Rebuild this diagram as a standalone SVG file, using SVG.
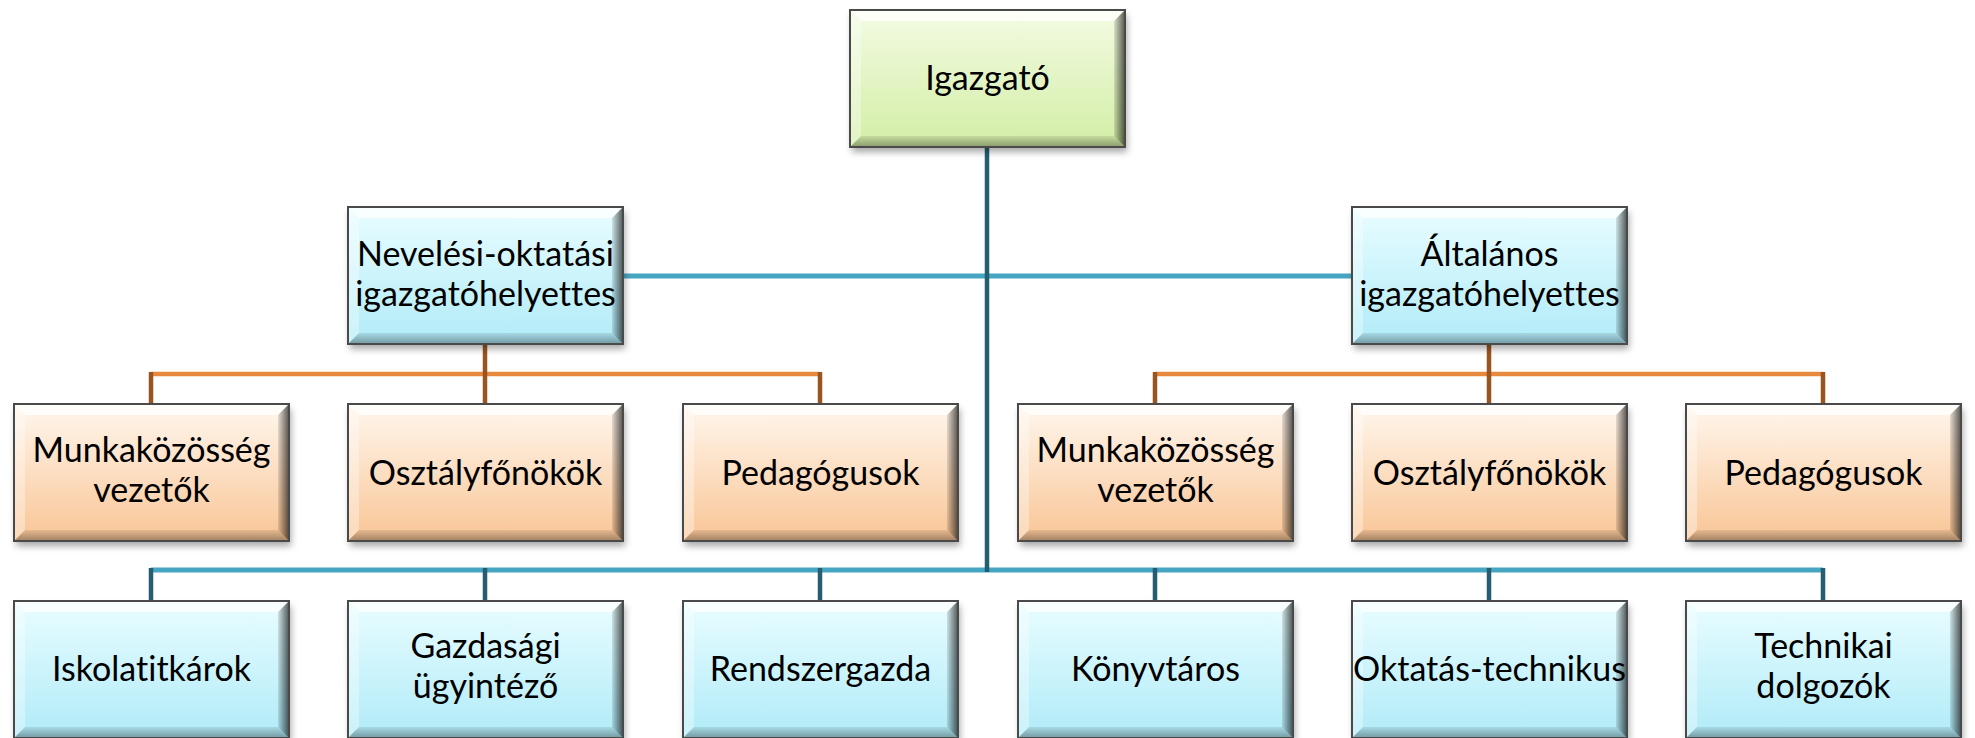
<svg xmlns="http://www.w3.org/2000/svg" xmlns:xlink="http://www.w3.org/1999/xlink" width="1975" height="738" viewBox="0 0 1975 738">
<defs>
<linearGradient id="gGreen" x1="0" y1="0" x2="0" y2="1"><stop offset="0" stop-color="#F3FBE3"/><stop offset="1" stop-color="#D3EEA6"/></linearGradient>
<linearGradient id="gBlue" x1="0" y1="0" x2="0" y2="1"><stop offset="0" stop-color="#E9FDFF"/><stop offset="1" stop-color="#B0EBF8"/></linearGradient>
<linearGradient id="gOrange" x1="0" y1="0" x2="0" y2="1"><stop offset="0" stop-color="#FFF7EE"/><stop offset="1" stop-color="#F9C595"/></linearGradient>
<linearGradient id="gRight" x1="0" y1="0" x2="1" y2="0"><stop offset="0" stop-color="#000" stop-opacity="0.1"/><stop offset="1" stop-color="#000" stop-opacity="0.65"/></linearGradient>
<linearGradient id="gBottom" x1="0" y1="0" x2="0" y2="1"><stop offset="0" stop-color="#000" stop-opacity="0.08"/><stop offset="1" stop-color="#000" stop-opacity="0.35"/></linearGradient>
<filter id="shadow" x="-10%" y="-10%" width="125%" height="130%"><feDropShadow dx="2" dy="5" stdDeviation="3.5" flood-color="#000" flood-opacity="0.35"/></filter>
<g id="bevel">
<polygon points="0,0 275,0 264,11 11,11" fill="#fff" fill-opacity="0.75"/>
<polygon points="0,0 11,11 11,126 0,137" fill="#fff" fill-opacity="0.35"/>
<polygon points="275,0 275,137 264,126 264,11" fill="url(#gRight)"/>
<polygon points="0,137 275,137 264,126 11,126" fill="url(#gBottom)"/>
<rect x="0" y="0" width="275" height="137" fill="none" stroke="#4a4a4a" stroke-width="2"/>
</g>
</defs>
<style>
.green{fill:url(#gGreen)}
.blue{fill:url(#gBlue)}
.orange{fill:url(#gOrange)}
.box{filter:url(#shadow)}
text{font-family:Lato,"Liberation Sans",sans-serif;font-size:34px;fill:#000;text-anchor:middle;font-variant-ligatures:none}
.cb{fill:none;stroke:#46A5C0;stroke-width:5}
.co{fill:none;stroke:#E88A3E;stroke-width:4.5}
.cbv{fill:none;stroke:#245E70;stroke-width:4.5}
.cov{fill:none;stroke:#9A5420;stroke-width:4.5}
</style>
<rect width="1975" height="738" fill="#fff"/>
<g id="connectors">
<path class="cb" d="M623,276 H1352 M151,570 H1823"/>
<path class="cbv" d="M987,147 V572 M151,568 V601 M485,568 V601 M820,568 V601 M1155,568 V601 M1489,568 V601 M1823,568 V601"/>
<path class="co" d="M151,374 H820 M1155,374 H1823"/>
<path class="cov" d="M485,344 V374 M151,372 V404 M485,372 V404 M820,372 V404 M1155,372 V404 M1489,344 V404 M1823,372 V404"/>
</g>
<g id="igazgato" transform="translate(850,10)"><rect class="box green" width="275" height="137"/><use href="#bevel"/><text x="137.5" y="80">Igazgató</text></g>
<g id="neveles" transform="translate(348,207)"><rect class="box blue" width="275" height="137"/><use href="#bevel"/><text x="137.5" y="59">Nevelési-oktatási</text><text x="137.5" y="99">igazgatóhelyettes</text></g>
<g id="altalanos" transform="translate(1352,207)"><rect class="box blue" width="275" height="137"/><use href="#bevel"/><text x="137.5" y="59">Általános</text><text x="137.5" y="99">igazgatóhelyettes</text></g>
<g id="munka1" transform="translate(14,404)"><rect class="box orange" width="275" height="137"/><use href="#bevel"/><text x="137.5" y="58">Munkaközösség</text><text x="137.5" y="98">vezetők</text></g>
<g id="osztaly1" transform="translate(348,404)"><rect class="box orange" width="275" height="137"/><use href="#bevel"/><text x="137.5" y="81">Osztályfőnökök</text></g>
<g id="pedagogus1" transform="translate(683,404)"><rect class="box orange" width="275" height="137"/><use href="#bevel"/><text x="137.5" y="81">Pedagógusok</text></g>
<g id="munka2" transform="translate(1018,404)"><rect class="box orange" width="275" height="137"/><use href="#bevel"/><text x="137.5" y="58">Munkaközösség</text><text x="137.5" y="98">vezetők</text></g>
<g id="osztaly2" transform="translate(1352,404)"><rect class="box orange" width="275" height="137"/><use href="#bevel"/><text x="137.5" y="81">Osztályfőnökök</text></g>
<g id="pedagogus2" transform="translate(1686,404)"><rect class="box orange" width="275" height="137"/><use href="#bevel"/><text x="137.5" y="81">Pedagógusok</text></g>
<g id="iskolatitkar" transform="translate(14,601)"><rect class="box blue" width="275" height="137"/><use href="#bevel"/><text x="137.5" y="80">Iskolatitkárok</text></g>
<g id="gazdasagi" transform="translate(348,601)"><rect class="box blue" width="275" height="137"/><use href="#bevel"/><text x="137.5" y="57">Gazdasági</text><text x="137.5" y="97">ügyintéző</text></g>
<g id="rendszergazda" transform="translate(683,601)"><rect class="box blue" width="275" height="137"/><use href="#bevel"/><text x="137.5" y="80">Rendszergazda</text></g>
<g id="konyvtaros" transform="translate(1018,601)"><rect class="box blue" width="275" height="137"/><use href="#bevel"/><text x="137.5" y="80">Könyvtáros</text></g>
<g id="oktatastech" transform="translate(1352,601)"><rect class="box blue" width="275" height="137"/><use href="#bevel"/><text x="137.5" y="80">Oktatás-technikus</text></g>
<g id="technikai" transform="translate(1686,601)"><rect class="box blue" width="275" height="137"/><use href="#bevel"/><text x="137.5" y="57">Technikai</text><text x="137.5" y="97">dolgozók</text></g>
</svg>
